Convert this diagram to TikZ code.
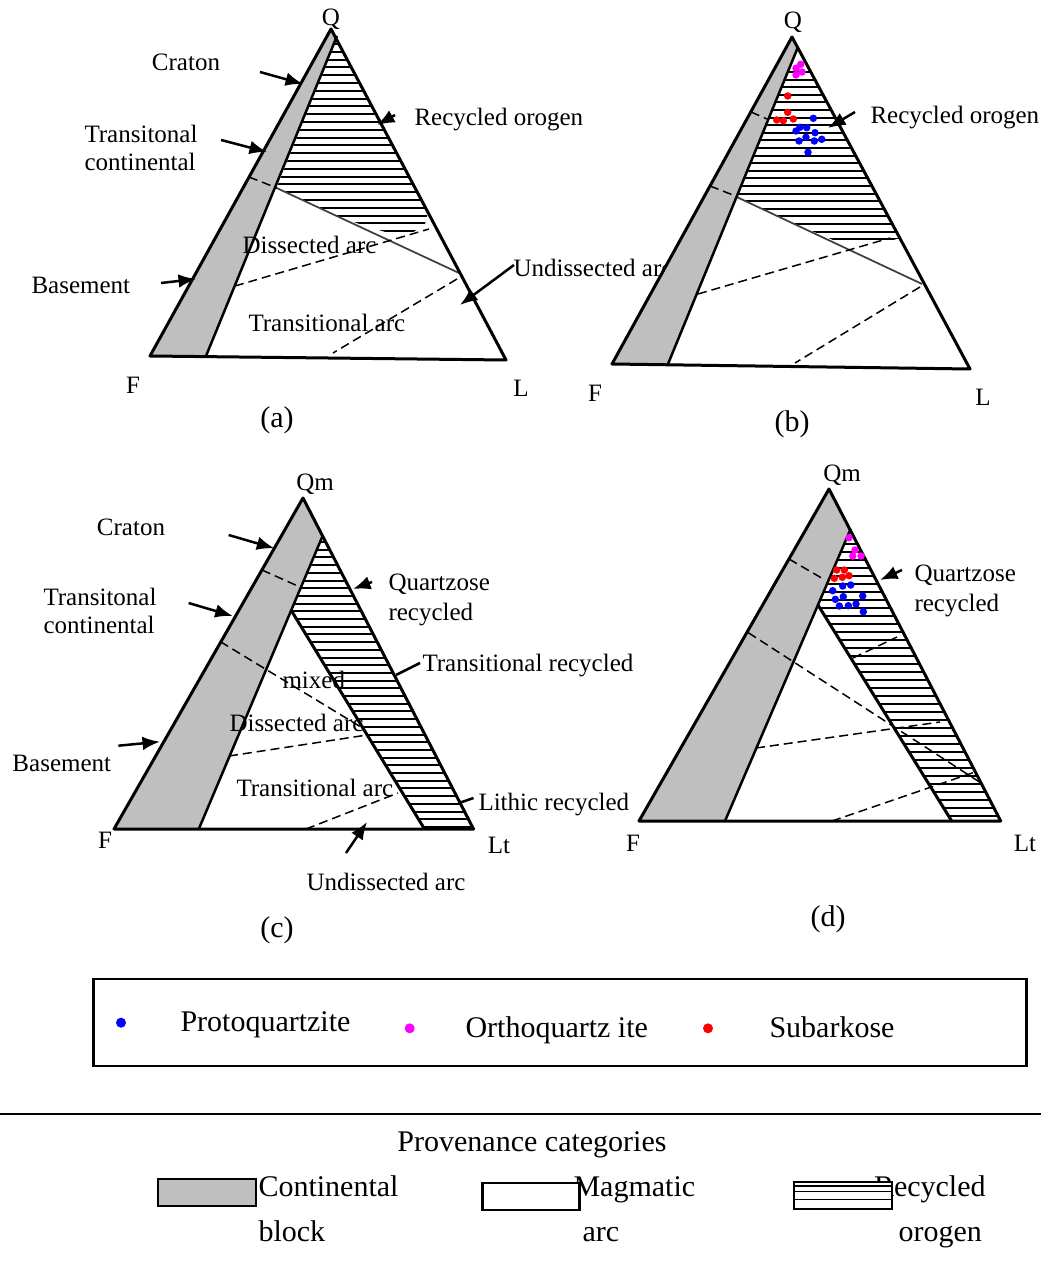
\documentclass[tikz,border=0pt]{standalone}
\usepackage{fontspec}
\setmainfont{Liberation Serif}
\usepackage{tikz}
\usetikzlibrary{arrows.meta, positioning, calc}

\definecolor{orthodot}{RGB}{255,0,255}
\definecolor{protodot}{RGB}{0,0,255}
\definecolor{subdot}{RGB}{255,0,0}

\tikzset{
	triline/.style={line width=1.2pt, line join=round},
	bandfill/.style={fill=black!25},
	hatchrule/.style={line width=0.8pt},
	dashrule/.style={dash pattern=on 3.6pt off 2pt, line width=0.6pt},
	splitline/.style={line width=0.7pt, draw=black!75},
	pointer/.style={-{Latex[length=7pt,width=5.5pt]}, line width=1pt},
	lab/.style={inner sep=0pt, anchor=west, text height=1.6ex, text depth=0.05ex},
	apexlab/.style={inner sep=0pt, text height=1.6ex, text depth=0.05ex},
}

\begin{document}
\begin{tikzpicture}[x=0.4pt, y=-0.4pt]
	\useasboundingbox (0,0) rectangle (1041,1264);
	
	%//panel (a): Q F L
	
	\fill[bandfill] (331,29) -- (150,356) -- (206,356) -- (337,36) -- cycle;
	\begin{scope}
		\clip (337,36) -- (276.6,188) -- (340,217) -- (365,226) -- (389,233) -- (412,233) -- (425,224) -- (428,212) -- (333,33) -- cycle;
		\foreach \y in {44,51.8,...,236}
		\draw[hatchrule] (260,\y) -- (440,\y);
	\end{scope}
	\draw[splitline] (276.6,188) -- (459,273);
	\draw[dashrule] (249,177) -- (277,188);
	\draw[dashrule] (235,286) -- (429,229);
	\draw[dashrule] (457,279) -- (333,353);
	\draw[line width=1pt] (206,356) -- (337,36);
	\draw[triline] (331,29) -- (150,356) -- (506,360) -- cycle;
	
	\node[apexlab] (qA) at (331,17) {Q};
	\node[apexlab] (fA) at (133,385) {F};
	\node[apexlab] (lA) at (521,388) {L};
	\node[apexlab, font=\large] (capA) at (277,419) {(a)};
	
	\node[apexlab] (cratonA) at (186,62) {Craton};
	\node[lab] (recA) at (414,117) {Recycled orogen};
	\node[lab] (tcA1) at (84,134) {Transitonal};
	\node[lab] (tcA2) at (84,162) {continental};
	\node[lab] (baseA) at (31,285) {Basement};
	\node[lab] (undA) at (513,268) {Undissected arc};
	\node[lab] (disA) at (242,245) {Dissected arc};
	\node[lab] (traA) at (248,323) {Transitional arc};
	
	\coordinate (cratonA1) at (260,72);  \coordinate (cratonA2) at (303,84);
	\coordinate (recA1) at (395,115);    \coordinate (recA2) at (377,125);
	\coordinate (tcA3) at (221,140);     \coordinate (tcA4) at (267,152);
	\coordinate (baseA1) at (161,283);   \coordinate (baseA2) at (196,279);
	\coordinate (undA1) at (514,265);    \coordinate (undA2) at (460,305);
	\draw[pointer] (cratonA1) -- (cratonA2);
	\draw[pointer] (recA1) -- (recA2);
	\draw[pointer] (tcA3) -- (tcA4);
	\draw[pointer] (baseA1) -- (baseA2);
	\draw[pointer] (undA1) -- (undA2);
	
	%//panel (b): Q F L with samples
	
	\fill[bandfill] (792,37) -- (612,364) -- (668,364) -- (798,47) -- cycle;
	\begin{scope}
		\clip (798,47) -- (737,197) -- (800,226) -- (838,242) -- (890,241) -- (900,238) -- (794,38) -- cycle;
		\foreach \y in {72,79.6,...,242}
		\draw[hatchrule] (700,\y) -- (920,\y);
	\end{scope}
	\draw[splitline] (736.7,197) -- (922,284);
	\draw[dashrule] (751,112) -- (767,119);
	\draw[dashrule] (710,186) -- (738,197);
	\draw[dashrule] (698,294) -- (890,238);
	\draw[dashrule] (920,287) -- (795,363);
	\draw[line width=1pt] (668,364) -- (798,47);
	\draw[triline] (792,37) -- (612,364) -- (970,369) -- cycle;
	
	\foreach \x/\y in {800.7/64.3, 796/68.3, 802/72, 796/75}
	\fill[orthodot] (\x,\y) circle[radius=1.5pt];
	\foreach \x/\y in {787.7/96, 787.7/112.3, 776.7/120, 783.3/120.7, 793.3/119}
	\fill[subdot] (\x,\y) circle[radius=1.5pt];
	\foreach \x/\y in {813.3/118.3, 800/127.3, 806.7/127.7, 796/131, 815/132.7, 806/137.3, 821.7/139.3, 799/141, 814.3/141, 808/152.3}
	\fill[protodot] (\x,\y) circle[radius=1.5pt];
	
	\node[apexlab] (qB) at (793,20) {Q};
	\node[apexlab] (fB) at (595,393) {F};
	\node[apexlab] (lB) at (983,397) {L};
	\node[apexlab, font=\large] (capB) at (792,423) {(b)};
	\node[lab] (recB) at (870,115) {Recycled orogen};
	\coordinate (recB1) at (855,112);    \coordinate (recB2) at (828,128);
	\draw[pointer] (recB1) -- (recB2);
	
	%//panel (c): Qm F Lt
	
	\fill[bandfill] (303,498) -- (322.6,536) -- (198.8,829) -- (114,829) -- cycle;
	\begin{scope}
		\clip (322.6,536) -- (291,610) -- (424.5,829) -- (473.5,829) -- cycle;
		\foreach \y in {542,549.7,...,830}
		\draw[hatchrule] (280,\y) -- (480,\y);
	\end{scope}
	\draw[dashrule] (262,570) -- (300,587);
	\draw[dashrule] (220.4,641.7) -- (363,728.3);
	\draw[dashrule] (229,756) -- (367,735);
	\draw[dashrule] (306,829) -- (398,793);
	\draw[line width=1pt] (322.6,536) -- (198.8,829);
	\draw[triline] (291,610) -- (424.5,829);
	\draw[triline] (303,498) -- (114,829) -- (473.5,829) -- cycle;
	
	\node[apexlab] (qC) at (315,482) {Qm};
	\node[apexlab] (fC) at (105,840) {F};
	\node[apexlab] (lC) at (499,845) {Lt};
	\node[apexlab, font=\large] (capC) at (277,929) {(c)};
	
	\node[apexlab] (cratonC) at (131,527) {Craton};
	\node[lab] (tcC1) at (43,597) {Transitonal};
	\node[lab] (tcC2) at (43,625) {continental};
	\node[lab] (baseC) at (12,763) {Basement};
	\node[lab] (qzC1) at (388,582) {Quartzose};
	\node[lab] (qzC2) at (388,612) {recycled};
	\node[lab] (trC) at (422,663) {Transitional recycled};
	\node[lab] (liC) at (478,802) {Lithic recycled};
	\node[apexlab] (undC) at (386,882) {Undissected arc};
	\node[lab] (mixC) at (282,680) {mixed};
	\node[lab] (disC) at (229,723) {Dissected arc};
	\node[lab] (traC) at (236,788) {Transitional arc};
	
	\coordinate (cratonC1) at (228.6,535); \coordinate (cratonC2) at (274.3,548.3);
	\coordinate (tcC3) at (188.6,603);     \coordinate (tcC4) at (232.7,616);
	\coordinate (baseC1) at (118.4,745.7); \coordinate (baseC2) at (160,741.7);
	\coordinate (qzC3) at (372,582);       \coordinate (qzC4) at (353,589);
	\coordinate (trC1) at (420,663);       \coordinate (trC2) at (396,675);
	\coordinate (liC1) at (473.5,798);     \coordinate (liC2) at (459,803);
	\coordinate (undC1) at (346,853);      \coordinate (undC2) at (367,822);
	\draw[pointer] (cratonC1) -- (cratonC2);
	\draw[pointer] (tcC3) -- (tcC4);
	\draw[pointer] (baseC1) -- (baseC2);
	\draw[pointer] (qzC3) -- (qzC4);
	\draw[line width=1pt] (trC1) -- (trC2);
	\draw[line width=1pt] (liC1) -- (liC2);
	\draw[pointer] (undC1) -- (undC2);
	
	%//panel (d): Qm F Lt with samples
	
	\fill[bandfill] (829,489) -- (850.2,530) -- (725,821) -- (639,821) -- cycle;
	\begin{scope}
		\clip (850.2,530) -- (818,605) -- (951.7,821) -- (1000.7,821) -- cycle;
		\foreach \y in {536,544,...,822}
		\draw[hatchrule] (800,\y) -- (1010,\y);
	\end{scope}
	\draw[dashrule] (789,559) -- (825,580);
	\draw[dashrule] (748.3,632.7) -- (981,783);
	\draw[dashrule] (756,748) -- (940,722);
	\draw[dashrule] (853,658) -- (897,637);
	\draw[dashrule] (832,821) -- (975,772);
	\draw[line width=1pt] (850.2,530) -- (725,821);
	\draw[triline] (818,605) -- (951.7,821);
	\draw[triline] (829,489) -- (639,821) -- (1000.7,821) -- cycle;
	
	\foreach \x/\y in {849/537.7, 855/550, 852.7/556, 861/556}
	\fill[orthodot] (\x,\y) circle[radius=1.5pt];
	\foreach \x/\y in {836.7/570, 844.3/570, 849/575.7, 842.3/577.3, 834.3/578.3}
	\fill[subdot] (\x,\y) circle[radius=1.5pt];
	\foreach \x/\y in {850.7/585, 842.7/586, 832.7/590.7, 843.3/596.7, 862.7/596, 835.3/599.3, 856/604, 848.3/605.7, 839.3/606, 863.3/611.7}
	\fill[protodot] (\x,\y) circle[radius=1.5pt];
	
	\node[apexlab] (qD) at (842,473) {Qm};
	\node[apexlab] (fD) at (633,843) {F};
	\node[apexlab] (lD) at (1025,843) {Lt};
	\node[apexlab, font=\large] (capD) at (828,918) {(d)};
	\node[lab] (qzD1) at (914,573) {Quartzose};
	\node[lab] (qzD2) at (914,603) {recycled};
	\coordinate (qzD3) at (902,570);     \coordinate (qzD4) at (880,580);
	\draw[pointer] (qzD3) -- (qzD4);
	
	%//sample legend
	
	\draw[line width=1pt] (93.5,979) rectangle (1026.7,1066);
	\foreach \x/\y/\c in {121/1022.7/protodot, 409.7/1028.3/orthodot, 708/1028.3/subdot}
	\fill[\c] (\x,\y) circle[radius=2pt];
	\node[lab, font=\large] (protoL) at (180,1023) {Protoquartzite};
	\node[lab, font=\large] (orthoL) at (465,1029) {Orthoquartz ite};
	\node[lab, font=\large] (subL) at (769,1029) {Subarkose};
	
	%//provenance categories
	
	\draw[line width=1pt] (0,1114) -- (1041,1114);
	\node[apexlab, font=\large] (provL) at (532,1143) {Provenance categories};
	
	\node[lab, font=\large] (contL1) at (258,1188) {Continental};
	\node[lab, font=\large] (contL2) at (258,1233) {block};
	\node[lab, font=\large] (magL1) at (573,1188) {Magmatic};
	\node[lab, font=\large] (magL2) at (582,1233) {arc};
	\node[lab, font=\large] (recL1) at (873.5,1188) {Recycled};
	\node[lab, font=\large] (recL2) at (898,1233) {orogen};
	
	\draw[bandfill, draw=black, line width=1pt] (158,1179) rectangle (256,1206);
	\draw[fill=white, line width=1pt] (482.6,1183) rectangle (579.4,1210);
	\draw[fill=white, line width=1pt] (793.8,1182) rectangle (892,1209);
	\foreach \y in {1186,1191.7,1199.3}
	\draw[line width=0.6pt] (793.8,\y) -- (892,\y);
	
\end{tikzpicture}
\end{document}
